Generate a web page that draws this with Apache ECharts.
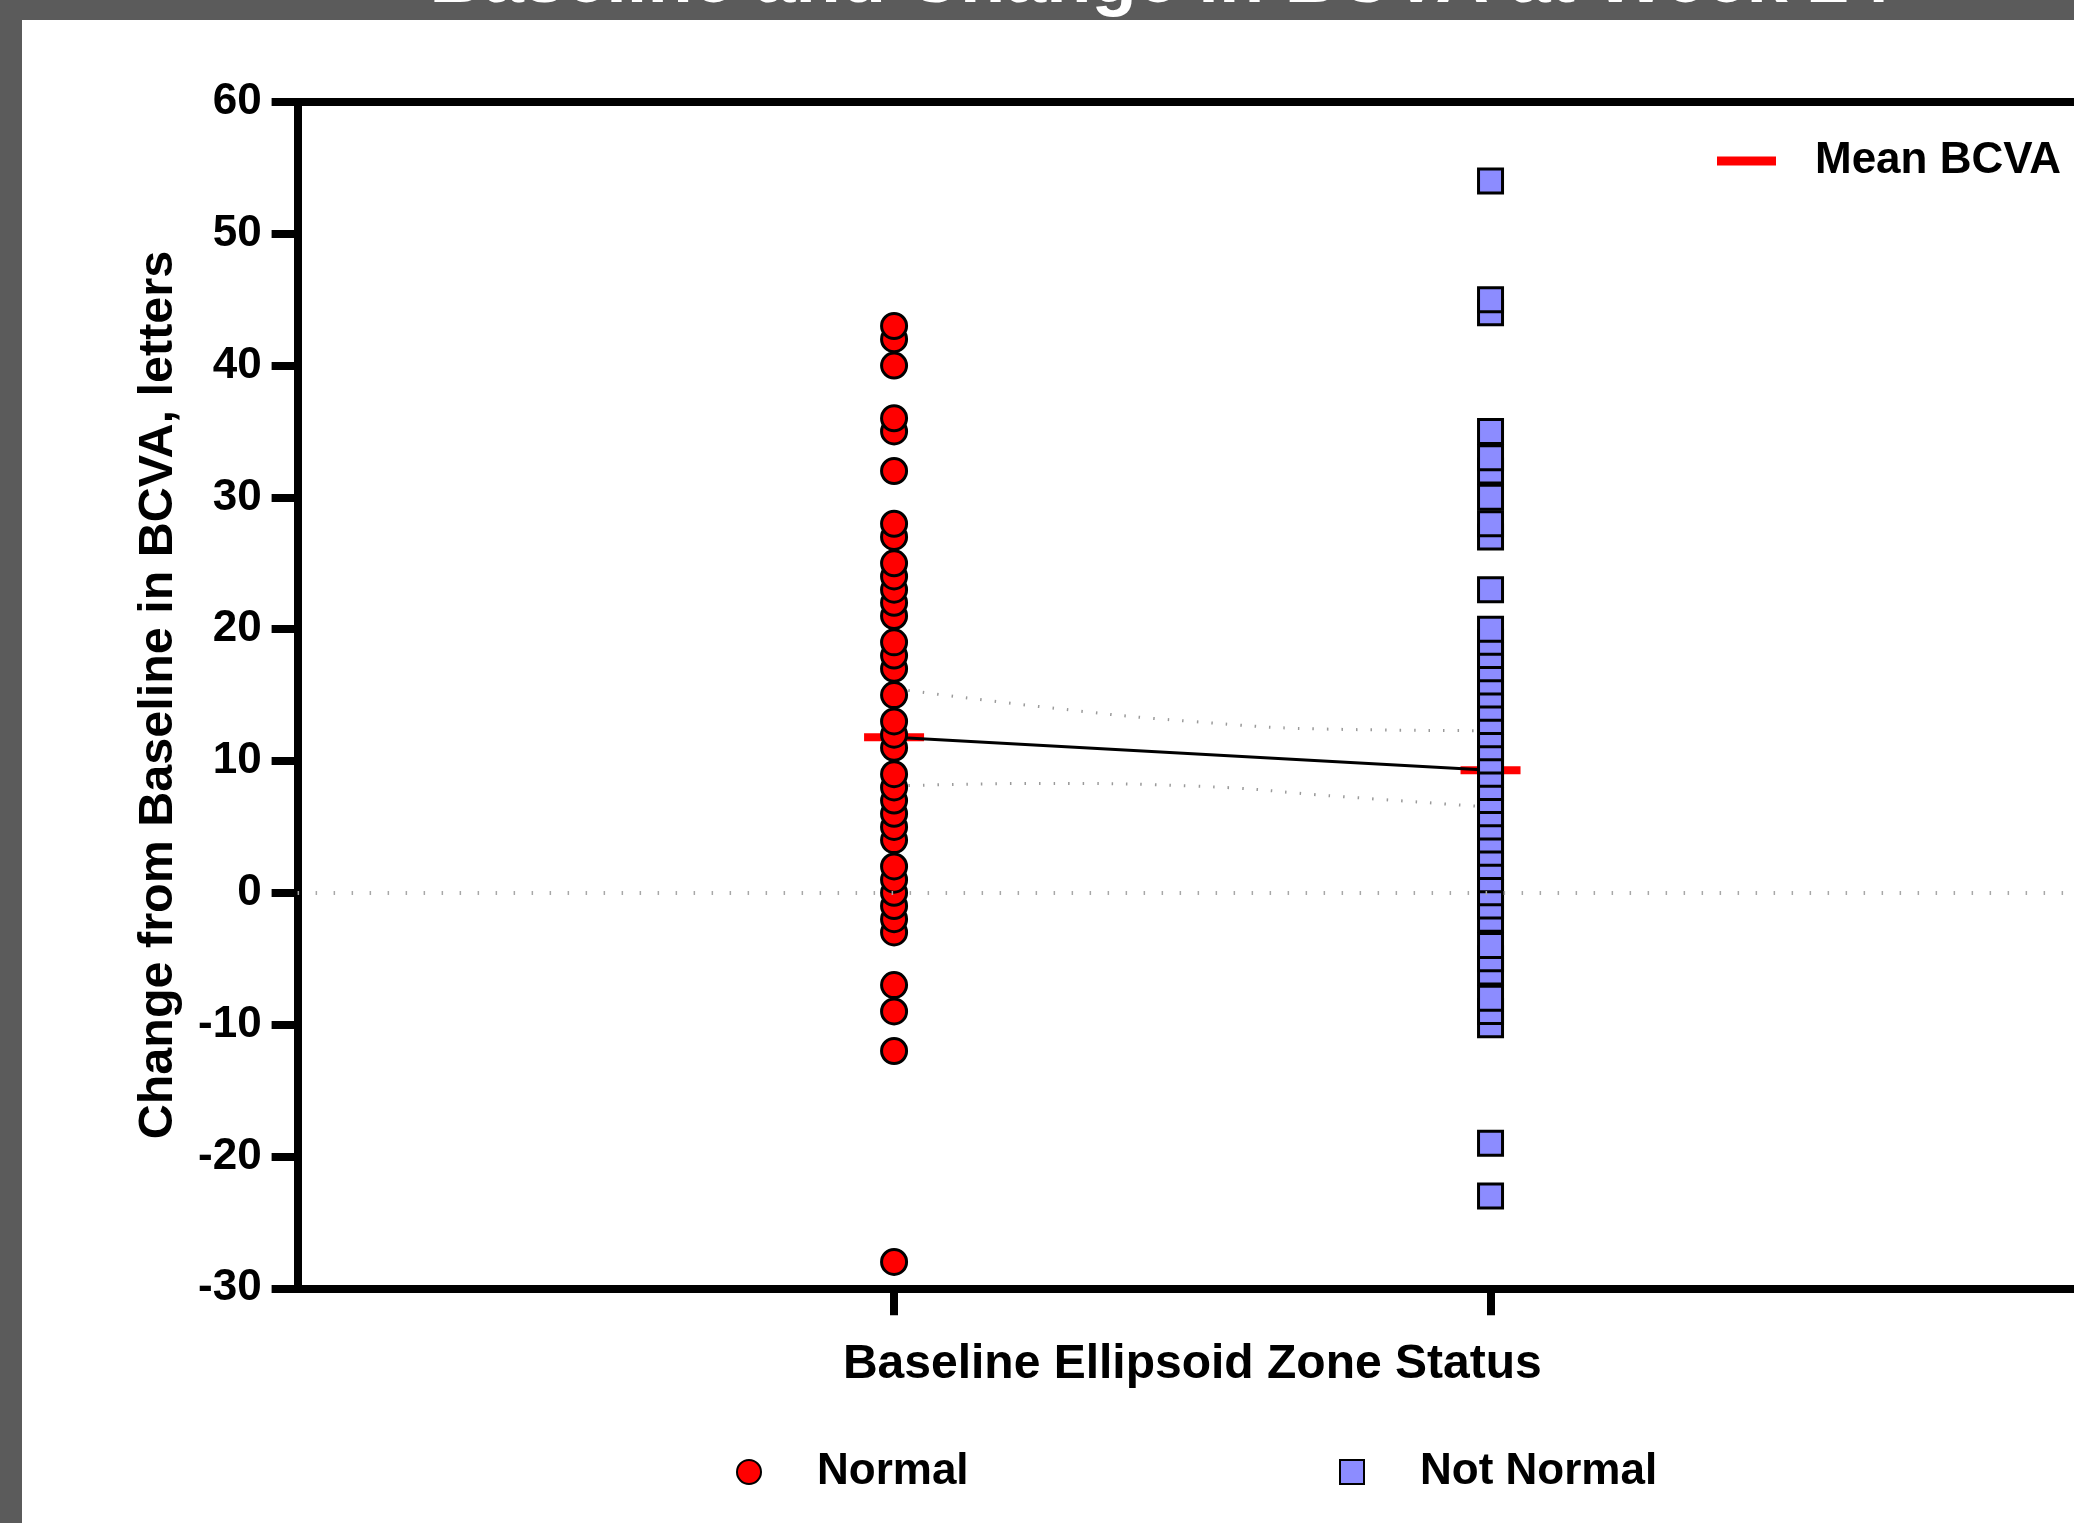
<!DOCTYPE html>
<html><head><meta charset="utf-8">
<script src="https://cdn.jsdelivr.net/npm/echarts@6/dist/echarts.min.js"></script>
<style>html,body{margin:0;padding:0;background:#fff;} #c{width:2074px;height:1523px;}</style>
</head><body><div id="c"></div>
<script>
// ---- data ----
const titleText = 'Baseline and Change in BCVA at Week 24';
const categories = ['Normal', 'Not Normal'];
const categoryX = [1, 2];
// listed ascending so higher values are drawn on top (as in the reference)
const normalValues = [-28, -12, -9, -7, -3, -2, -1, 0, 1, 2, 4, 5, 6, 7, 8, 9, 11, 12, 13, 15, 17, 18, 19, 21, 22, 23, 24, 25, 27, 28, 32, 35, 36, 40, 42, 43];
const notNormalValues = [-23, -19, -10, -9, -8, -6, -5, -4, -2, -1, 0, 1, 2, 3, 4, 5, 6, 7, 8, 9, 10, 11, 12, 13, 14, 15, 16, 17, 18, 19, 20, 23, 27, 28, 30, 32, 33, 35, 44, 45, 54];
const meanValues = [11.8, 9.3];
const ciX = [1, 1.25, 1.5, 1.75, 2];
const ciUpper = [15.5, 14.1, 13.0, 12.4, 12.3];
const ciLower = [8.1, 8.3, 8.1, 7.3, 6.5];
const yMin = -30, yMax = 60, yInterval = 10;
const meanLabel = 'Mean BCVA';
const xTitle = 'Baseline Ellipsoid Zone Status';
const yTitle = 'Change from Baseline in BCVA, letters';

const FF = '"Liberation Sans", Arial, Helvetica, sans-serif';
const chart = echarts.init(document.getElementById('c'), null, {renderer: 'canvas'});

const legendText = (pad) => ({fontSize: 44, fontWeight: 'bold', color: '#000', fontFamily: FF, padding: [0, 0, 0, pad]});

chart.setOption({
  animation: false,
  backgroundColor: '#ffffff',
  textStyle: {fontFamily: FF},
  graphic: [
    {type: 'rect', shape: {x: 0, y: 0, width: 2074, height: 20}, style: {fill: '#5b5b5b'}, z: 100},
    {type: 'rect', shape: {x: 0, y: 0, width: 22, height: 1523}, style: {fill: '#5b5b5b'}, z: 100},
    {type: 'text', x: 1160, y: 19, z: 101, style: {text: titleText, fill: '#ffffff', font: 'bold 74px ' + FF, align: 'center', verticalAlign: 'bottom'}}
  ],
  grid: {left: 297.6, top: 101.9, width: 1789.4, height: 1186.4, containLabel: false, outerBoundsMode: 'none'},
  legend: [
    {data: [meanLabel], left: 1717, top: 139, padding: 0, icon: 'rect', itemWidth: 59, itemHeight: 9, selectedMode: false, textStyle: legendText(34)},
    {data: [categories[0]], left: 736, top: 1450, padding: 0, icon: 'circle', itemWidth: 24, itemHeight: 24, selectedMode: false, textStyle: legendText(51)},
    {data: [categories[1]], left: 1339, top: 1450, padding: 0, icon: 'rect', itemWidth: 24, itemHeight: 24, selectedMode: false, textStyle: legendText(51)}
  ],
  xAxis: [
    {type: 'value', min: 0, max: 3, interval: 1, position: 'bottom',
     axisLine: {show: true, onZero: false, lineStyle: {color: '#000', width: 8}},
     axisTick: {show: true, customValues: categoryX, length: 27, lineStyle: {color: '#000', width: 8}},
     axisLabel: {show: false}, splitLine: {show: false},
     name: xTitle, nameLocation: 'middle', nameGap: 52,
     nameTextStyle: {fontSize: 48, fontWeight: 'bold', color: '#000', fontFamily: FF}},
    {type: 'value', min: 0, max: 3, interval: 1, position: 'top',
     axisLine: {show: true, onZero: false, lineStyle: {color: '#000', width: 8}},
     axisTick: {show: false}, axisLabel: {show: false}, splitLine: {show: false}}
  ],
  yAxis: {
    type: 'value', min: yMin, max: yMax, interval: yInterval,
    axisLine: {show: true, onZero: false, lineStyle: {color: '#000', width: 8}},
    axisTick: {show: true, length: 26, lineStyle: {color: '#000', width: 8}},
    axisLabel: {fontSize: 44, fontWeight: 'bold', color: '#000', margin: 36, fontFamily: FF},
    splitLine: {show: false},
    name: yTitle, nameLocation: 'middle', nameGap: 114,
    nameTextStyle: {fontSize: 48.5, fontWeight: 'bold', color: '#000', fontFamily: FF}
  },
  series: [
    {name: 'zero', type: 'line', data: [], silent: true,
     markLine: {silent: true, symbol: 'none', label: {show: false},
       lineStyle: {color: '#a8a8a8', width: 4, type: [1.5, 16.5]}, data: [{yAxis: 0}]}, z: 1},
    {name: 'CI upper', type: 'line', smooth: true, symbol: 'none', silent: true,
     data: ciX.map((x, i) => [x, ciUpper[i]]),
     lineStyle: {color: '#9a9a9a', width: 3, type: [1.5, 13]}, z: 1},
    {name: 'CI lower', type: 'line', smooth: true, symbol: 'none', silent: true,
     data: ciX.map((x, i) => [x, ciLower[i]]),
     lineStyle: {color: '#9a9a9a', width: 3, type: [1.5, 13]}, z: 1},
    {name: meanLabel, type: 'scatter', symbol: 'rect', symbolSize: [60, 8], silent: true,
     data: categoryX.map((x, i) => [x, meanValues[i]]),
     itemStyle: {color: '#ff0000', opacity: 1}, z: 2},
    {name: 'mean line', type: 'line', symbol: 'none', silent: true,
     data: categoryX.map((x, i) => [x, meanValues[i]]),
     lineStyle: {color: '#000', width: 3}, z: 3},
    {name: categories[0], type: 'scatter', symbol: 'circle', symbolSize: 25, silent: true,
     data: normalValues.map(v => [categoryX[0], v]),
     itemStyle: {color: '#ff0000', borderColor: '#000', borderWidth: 3, opacity: 1}, z: 4},
    {name: categories[1], type: 'scatter', symbol: 'rect', symbolSize: 24, silent: true,
     data: notNormalValues.map(v => [categoryX[1], v]),
     itemStyle: {color: '#8c8cff', borderColor: '#000', borderWidth: 3, opacity: 1}, z: 4}
  ]
});
</script>
</body></html>
